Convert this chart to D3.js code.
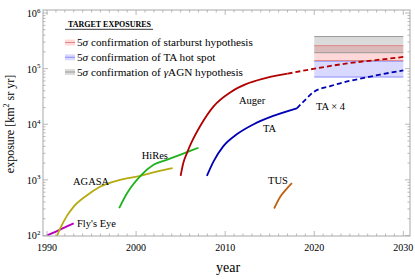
<!DOCTYPE html>
<html><head><meta charset="utf-8">
<script src="https://cdn.jsdelivr.net/npm/d3@7"></script>
<style>
body{margin:0;background:#fff}
text{font-family:"Liberation Serif","Times New Roman",serif;fill:#000}
</style>
</head><body>
<svg id="chart" width="415" height="279"></svg>
<script>
// ---- data ----
const flyYears   = [1990, 1991, 1992, 1993];
const flyValues  = [100, 117, 140, 165];
const agasaYears = [1991.05, 1991.3, 1991.5, 1992.2, 1993, 1994.5, 1996, 1998.2, 2000.5, 2002.3, 2004.1];
const agasaValues= [90, 115, 135, 220, 330, 530, 760, 1000, 1180, 1410, 1630];
const hiresYears = [1998.1, 1999, 2000.5, 2002, 2003.5, 2005, 2007];
const hiresValues= [310, 580, 1180, 1880, 2310, 2850, 3770];
const augerYears = [2005.0, 2005.3, 2005.7, 2006.3, 2007.2, 2008.7, 2010.6, 2012.4, 2014.3, 2016.2, 2017];
const augerValues= [1180, 2000, 3000, 5000, 9300, 21000, 37700, 53000, 66000, 77000, 81000];
const augerFutYears = [2017, 2019.9, 2023.7, 2027.4, 2030];
const augerFutValues= [81000, 99000, 124000, 145000, 162000];
const taYears    = [2007.95, 2008.7, 2009.8, 2011.3, 2013.2, 2015.4, 2018.05];
const taValues   = [1180, 2150, 4030, 6580, 10000, 14100, 19300];
const ta4Years   = [2018.05, 2019, 2019.9, 2021.8, 2023.7, 2025.6, 2027.4, 2030];
const ta4Values  = [19300, 27500, 37700, 48400, 58800, 68000, 78000, 93000];
const tusYears   = [2015.5, 2016.2, 2016.8, 2017.5];
const tusValues  = [305, 500, 660, 870];

const bandNames  = ["starburst", "hotspot", "gagn"];
const bandYears  = [2020, 2030];
const bandLow    = [140000, 70600, 193000];
const bandHigh   = [259000, 136000, 377000];

const xTickValues = [1990, 2000, 2010, 2020, 2030];
const yTickExps   = [2, 3, 4, 5, 6];

const curveLabels = ["Fly's Eye", "AGASA", "HiRes", "Auger", "TA", "TA × 4", "TUS"];
const labelYears  = [1993.37, 1992.92, 2000.63, 2011.55, 2014.25, 2020.2, 2014.81];
const labelValues = [167, 953, 2800, 27270, 8550, 20650, 993];

// ---- layout ----
const svg = d3.select("#chart");
const L = 43, R = 410, T = 10, B = 236;
const x = d3.scaleLinear().domain([1989.55, 2030.75]).range([L, R]);
const y = d3.scaleLog().domain([Math.pow(10,1.99), Math.pow(10,6.054)]).range([B, T]);

svg.append("clipPath").attr("id","clip").append("rect")
  .attr("x",L).attr("y",T).attr("width",R-L).attr("height",B-T);
const plot = svg.append("g").attr("clip-path","url(#clip)");

// bands
const bandFill   = ["rgba(255,0,0,0.15)", "rgba(0,0,255,0.15)", "rgba(0,0,0,0.14)"];
const bandStroke = ["#e08888", "#8c8cff", "#999"];
const bandOrder = [1, 0, 2];
bandOrder.forEach(i => {
  plot.append("rect")
    .attr("x", x(bandYears[0])).attr("width", x(bandYears[1]) - x(bandYears[0]))
    .attr("y", y(bandHigh[i])).attr("height", y(bandLow[i]) - y(bandHigh[i]))
    .attr("fill", bandFill[i]);
});
bandOrder.forEach(i => {
  [bandLow[i], bandHigh[i]].forEach(v => {
    plot.append("line")
      .attr("x1", x(bandYears[0])).attr("x2", x(bandYears[1]))
      .attr("y1", y(v)).attr("y2", y(v))
      .attr("stroke", bandStroke[i]).attr("stroke-width", 1);
  });
});

// curves
const line = d3.line().x(d => x(d[0])).y(d => y(d[1])).curve(d3.curveMonotoneX);
function draw(years, vals, color, dash) {
  plot.append("path")
    .datum(years.map((yr, i) => [yr, vals[i]]))
    .attr("d", line).attr("fill","none")
    .attr("stroke", color).attr("stroke-width", 1.8)
    .attr("stroke-dasharray", dash || null);
}
draw(flyYears, flyValues, "#bb00bb");
draw(agasaYears, agasaValues, "#b5ab10");
draw(hiresYears, hiresValues, "#1fb21f");
draw(augerYears, augerValues, "#b00000");
draw(augerFutYears, augerFutValues, "#b00000", "5,3");
draw(taYears, taValues, "#0000b4");
draw(ta4Years, ta4Values, "#0000b4", "5,3");
draw(tusYears, tusValues, "#c06010");

// curve labels
curveLabels.forEach((t, i) => {
  svg.append("text").attr("x", x(labelYears[i])).attr("y", y(labelValues[i]) + 3.7)
    .attr("font-size", 10.5).text(t);
});

// frame
svg.append("rect").attr("x",L).attr("y",T).attr("width",R-L).attr("height",B-T)
  .attr("fill","none").attr("stroke","#a8a8a8").attr("stroke-width",1);

// x ticks
const tickG = svg.append("g").attr("stroke","#a8a8a8").attr("stroke-width",0.8);
d3.range(1990, 2031, 1).forEach(yr => {
  const len = (yr % 10 === 0) ? 5 : 2.5;
  tickG.append("line").attr("x1",x(yr)).attr("x2",x(yr)).attr("y1",B).attr("y2",B-len);
  tickG.append("line").attr("x1",x(yr)).attr("x2",x(yr)).attr("y1",T).attr("y2",T+len);
});
// y ticks
yTickExps.forEach(e => {
  for (let m = 1; m <= 9; m++) {
    const v = m * Math.pow(10, e);
    if (v > y.domain()[1]) break;
    const len = (m === 1) ? 5 : 2.5;
    tickG.append("line").attr("x1",L).attr("x2",L+len).attr("y1",y(v)).attr("y2",y(v));
    tickG.append("line").attr("x1",R).attr("x2",R-len).attr("y1",y(v)).attr("y2",y(v));
  }
});

// x tick labels
xTickValues.forEach(v => {
  svg.append("text").attr("x", x(v)).attr("y", 251.3).attr("text-anchor","middle")
    .attr("font-size", 10).text(v);
});
// y tick labels
yTickExps.forEach(e => {
  const t = svg.append("text").attr("x", 40.5).attr("y", y(Math.pow(10,e)) + 4)
    .attr("text-anchor","end").attr("font-size", 10.3);
  t.append("tspan").text("10");
  t.append("tspan").attr("font-size", 7).attr("dy", -4.5).text(e);
});

// axis titles
svg.append("text").attr("x", 228).attr("y", 272).attr("text-anchor","middle")
  .attr("font-size", 14).text("year");
const yt = svg.append("text").attr("transform","translate(13.5,124) rotate(-90)")
  .attr("text-anchor","middle").attr("font-size", 12);
yt.append("tspan").text("exposure [km");
yt.append("tspan").attr("font-size", 8).attr("dy", -4.5).text("2");
yt.append("tspan").attr("dy", 4.5).text(" sr yr]");

// legend
svg.append("text").attr("x", 68).attr("y", 26.7).attr("font-size", 8)
  .attr("font-weight","bold").text("TARGET EXPOSURES");
svg.append("line").attr("x1",65).attr("x2",153).attr("y1",29.3).attr("y2",29.3)
  .attr("stroke","#000").attr("stroke-width",0.8);
const legendRows = [42.5, 57.3, 72];
const legendParts = [
  ["5", "σ", " confirmation of starburst hypothesis"],
  ["5", "σ", " confirmation of TA hot spot"],
  ["5", "σ", " confirmation of ", "γ", "AGN hypothesis"]
];
[0,1,2].forEach(i => {
  svg.append("rect").attr("x",65).attr("y",legendRows[i]-3).attr("width",10).attr("height",6)
    .attr("fill", bandFill[i]);
  svg.append("line").attr("x1",65).attr("x2",75).attr("y1",legendRows[i]).attr("y2",legendRows[i])
    .attr("stroke", bandStroke[i]).attr("stroke-width",1);
  const t = svg.append("text").attr("x", 77).attr("y", legendRows[i] + 3.8).attr("font-size", 11.2);
  legendParts[i].forEach(p => {
    const s = t.append("tspan").text(p);
    if (p === "σ" || p === "γ") s.attr("font-style","italic");
  });
});
</script>
</body></html>
